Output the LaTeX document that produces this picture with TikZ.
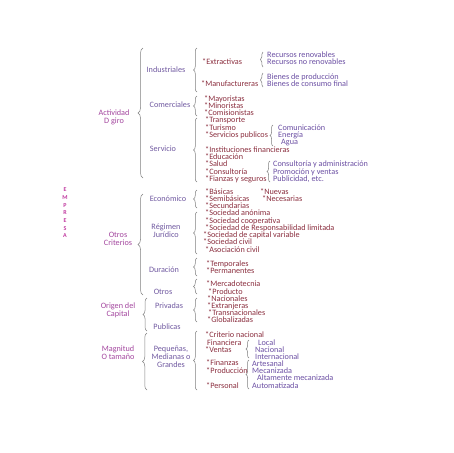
\documentclass[tikz,border=0pt]{standalone}
\usepackage{fontspec}
\setmainfont{Carlito}
\usetikzlibrary{decorations.pathreplacing}
\definecolor{cone}{HTML}{A3469E}
\definecolor{ctwo}{HTML}{7059A0}
\definecolor{cthree}{HTML}{8B2F3F}
\definecolor{cfour}{HTML}{6B4FA3}
\definecolor{cfive}{HTML}{C0399F}
\definecolor{cbr}{HTML}{7F7F7F}
\tikzset{
  lvlone/.style={text=cone, align=center, inner sep=0pt, font=\fontsize{8.2}{7.8}\selectfont},
  lvltwo/.style={text=ctwo, align=center, inner sep=0pt, font=\fontsize{8.2}{7.8}\selectfont},
  itm/.style={text=cthree, anchor=west, inner sep=0pt, text height=4.8pt, text depth=1pt, yshift=-0.5pt, font=\fontsize{8.2}{7.8}\selectfont},
  sbi/.style={text=cfour, anchor=west, inner sep=0pt, text height=4.8pt, text depth=1pt, yshift=-0.5pt, font=\fontsize{8.2}{7.8}\selectfont},
  ltr/.style={text=cfive, inner sep=0pt, font=\fontsize{6}{6}\selectfont\bfseries},
  brc/.style={draw=cbr, line width=0.5pt, decorate, decoration={brace,amplitude=#1}},
  brc/.default=3.5pt
}
\begin{document}
\begin{tikzpicture}[x=1pt,y=-1pt]
\useasboundingbox (0,0) rectangle (453,453);
% EMPRESA
\node[ltr] (e1) at (65,190) {E};
\node[ltr] (e2) at (65,198) {M};
\node[ltr] (e3) at (65,206) {P};
\node[ltr] (e4) at (65,213) {R};
\node[ltr] (e5) at (65,221) {E};
\node[ltr] (e6) at (65,229) {S};
\node[ltr] (e7) at (65,236) {A};
% level one
\node[lvlone] (act) at (114,117) {Actividad\\D giro};
\node[lvlone] (otc) at (118,239) {Otros\\Criterios};
\node[lvlone] (ori) at (118,310) {Origen del\\Capital};
\node[lvlone] (mag) at (118,353) {Magnitud\\O tamaño};
% big braces
\draw[brc=5pt] (143,178) -- (143,48);
\draw[brc=5pt] (143,295) -- (143,194);
\draw[brc=4pt] (147,331) -- (147,298);
\draw[brc=4.5pt] (147,390) -- (147,333);
% level two
\node[lvltwo] (ind) at (166,70) {Industriales};
\node[lvltwo] (com) at (170,105) {Comerciales};
\node[lvltwo] (ser) at (163,149) {Servicio};
\node[lvltwo] (eco) at (168,199) {Económico};
\node[lvltwo] (reg) at (166,231) {Régimen\\Jurídico};
\node[lvltwo] (dur) at (164,270) {Duración};
\node[lvltwo] (otr) at (163,292) {Otros};
\node[lvltwo] (pri) at (169,306) {Privadas};
\node[lvltwo] (pub) at (167,327) {Publicas};
\node[lvltwo] (peq) at (171,357) {Pequeñas,\\Medianas o\\Grandes};
% level two braces
\draw[brc] (197,92) -- (197,48);
\draw[brc] (197,116) -- (197,96);
\draw[brc] (197,182) -- (197,118);
\draw[brc] (197,208) -- (197,190);
\draw[brc] (197,254) -- (197,212);
\draw[brc] (197,276) -- (197,258);
\draw[brc] (197,294) -- (197,279);
\draw[brc] (197,322) -- (197,298);
\draw[brc] (197,390) -- (197,331);
% items
\node[itm] (i1) at (202,62) {*Extractivas};
\node[itm] (i2) at (201,84) {*Manufactureras};
\node[itm] (i3) at (204,99) {*Mayoristas};
\node[itm] (i4) at (204,106) {*Minoristas};
\node[itm] (i5) at (204,113) {*Comisionistas};
\node[itm] (i6) at (205,120) {*Transporte};
\node[itm] (i7) at (205,128) {*Turismo};
\node[itm] (i8) at (205,135) {*Servicios publicos};
\node[itm] (i9) at (205,150) {*Instituciones financieras};
\node[itm] (i10) at (205,157.5) {*Educación};
\node[itm] (i11) at (205,164.5) {*Salud};
\node[itm] (i12) at (205,172) {*Consultoría};
\node[itm] (i13) at (205,179) {*Fianzas y seguros};
\node[itm] (i14) at (205,192) {*Básicas};
\node[itm] (i15) at (260,192) {*Nuevas};
\node[itm] (i16) at (205,199) {*Semibásicas};
\node[itm] (i17) at (262,199) {*Necesarias};
\node[itm] (i18) at (205,206) {*Secundarias};
\node[itm] (i19) at (205,213) {*Sociedad anónima};
\node[itm] (i20) at (205,221) {*Sociedad cooperativa};
\node[itm] (i21) at (205,228) {*Sociedad de Responsabilidad limitada};
\node[itm] (i22) at (203,235) {*Sociedad de capital variable};
\node[itm] (i23) at (203,242) {*Sociedad civil};
\node[itm] (i24) at (205,250) {*Asociación civil};
\node[itm] (i25) at (206,264) {*Temporales};
\node[itm] (i26) at (206,271) {*Permanentes};
\node[itm] (i27) at (206,284) {*Mercadotecnia};
\node[itm] (i28) at (208,292) {*Producto};
\node[itm] (i29) at (207,299) {*Nacionales};
\node[itm] (i30) at (207,306) {*Extranjeras};
\node[itm] (i31) at (208,313) {*Transnacionales};
\node[itm] (i32) at (207,320) {*Globalizadas};
\node[itm] (i33) at (205,335) {*Criterio nacional};
\node[itm] (i34) at (207,343) {Financiera};
\node[itm] (i35) at (205,350) {*Ventas};
\node[itm] (i36) at (206,363) {*Finanzas};
\node[itm] (i37) at (206,371) {*Producción};
\node[itm] (i38) at (206,386) {*Personal};
% sub braces
\draw[brc=2.5pt] (263,67) -- (263,52);
\draw[brc=2.5pt] (263,87) -- (263,73);
\draw[brc=3pt] (273,146) -- (273,125);
\draw[brc=3pt] (270,182) -- (270,161);
\draw[brc=3pt] (249,358) -- (249,340);
\draw[brc=3pt] (249,389) -- (249,360);
% sub items
\node[sbi] (s1) at (267,55) {Recursos renovables};
\node[sbi] (s2) at (267,62) {Recursos no renovables};
\node[sbi] (s3) at (267,77) {Bienes de producción};
\node[sbi] (s4) at (267,84) {Bienes de consumo final};
\node[sbi] (s5) at (278,128) {Comunicación};
\node[sbi] (s6) at (278,135) {Energía};
\node[sbi] (s7) at (281,142) {Agua};
\node[sbi] (s8) at (273,164) {Consultoría y administración};
\node[sbi] (s9) at (273,172) {Promoción y ventas};
\node[sbi] (s10) at (273,179) {Publicidad, etc.};
\node[sbi] (s11) at (258,343) {Local};
\node[sbi] (s12) at (255,350) {Nacional};
\node[sbi] (s13) at (255,357) {Internacional};
\node[sbi] (s14) at (252,364) {Artesanal};
\node[sbi] (s15) at (252,371) {Mecanizada};
\node[sbi] (s16) at (257,378) {Altamente mecanizada};
\node[sbi] (s17) at (252,386) {Automatizada};
\end{tikzpicture}
\end{document}
